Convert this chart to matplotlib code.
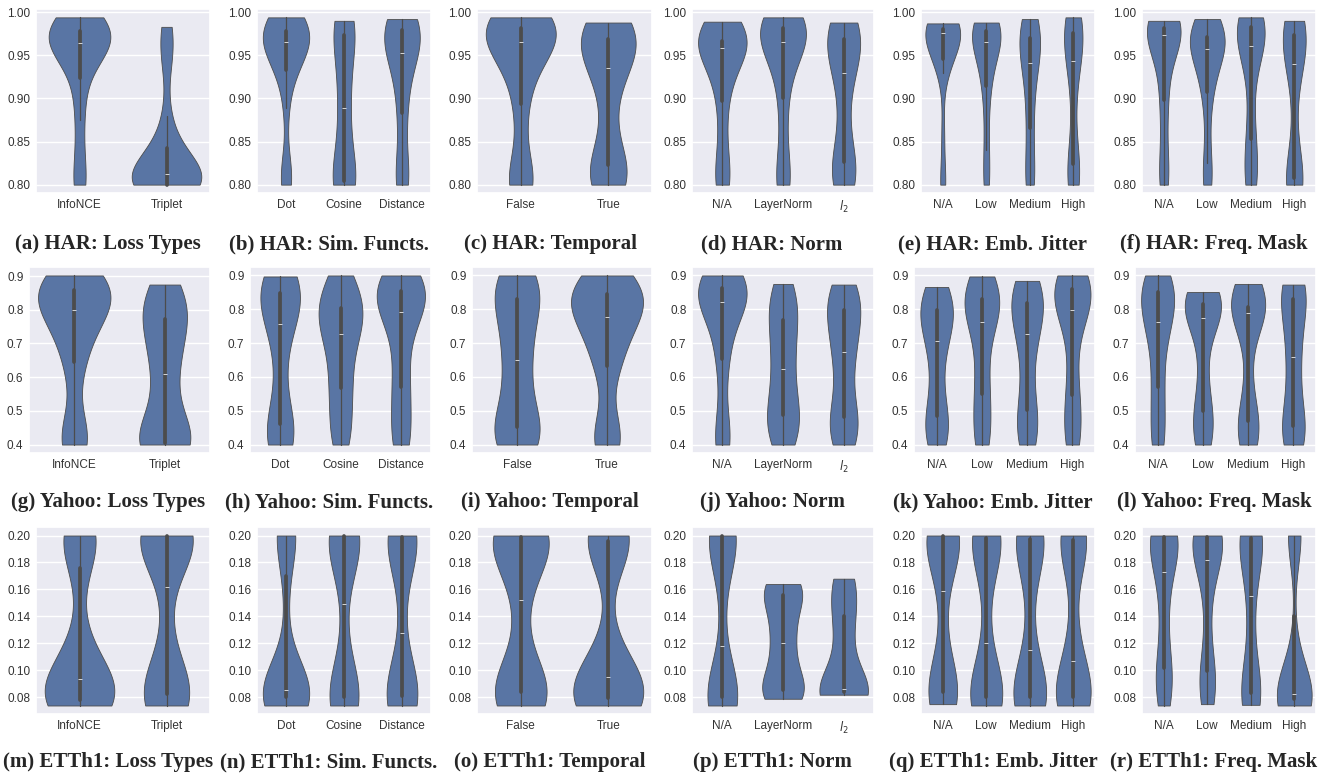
import numpy as np
import pandas as pd
import matplotlib
matplotlib.use('Agg')
import matplotlib.pyplot as plt
from matplotlib.ticker import FormatStrFormatter
import seaborn as sns

# category labels
loss_cats = ['InfoNCE', 'Triplet']
sim_cats = ['Dot', 'Cosine', 'Distance']
temporal_cats = ['False', 'True']
norm_cats = ['N/A', 'LayerNorm', r'$l_2$']
level_cats = ['N/A', 'Low', 'Medium', 'High']

# HAR scores (clipped at 0.80)
har_loss = [
    [0.80, 0.80, 0.836, 0.875, 0.905, 0.93, 0.948, 0.957, 0.961, 0.963, 0.965, 0.968, 0.971, 0.974, 0.977, 0.98, 0.984, 0.988, 0.991, 0.994],
    [0.80, 0.80, 0.80, 0.80, 0.80, 0.80, 0.80, 0.80, 0.805, 0.81, 0.815, 0.82, 0.826, 0.832, 0.84, 0.85, 0.88, 0.94, 0.965, 0.983],
]
har_sim = [
    [0.80, 0.805, 0.82, 0.889, 0.925, 0.936, 0.945, 0.952, 0.958, 0.963, 0.967, 0.97, 0.973, 0.975, 0.977, 0.981, 0.985, 0.989, 0.992, 0.994],
    [0.80, 0.80, 0.80, 0.80, 0.80, 0.805, 0.82, 0.84, 0.86, 0.88, 0.898, 0.915, 0.935, 0.95, 0.972, 0.978, 0.982, 0.986, 0.988, 0.99],
    [0.80, 0.80, 0.81, 0.83, 0.87, 0.887, 0.91, 0.93, 0.942, 0.95, 0.956, 0.962, 0.968, 0.973, 0.977, 0.985, 0.987, 0.989, 0.991, 0.992],
]
har_temporal = [
    [0.80, 0.80, 0.805, 0.815, 0.87, 0.902, 0.925, 0.942, 0.953, 0.962, 0.968, 0.972, 0.975, 0.978, 0.981, 0.985, 0.988, 0.99, 0.992, 0.994],
    [0.80, 0.80, 0.805, 0.81, 0.818, 0.825, 0.845, 0.88, 0.91, 0.93, 0.94, 0.948, 0.955, 0.96, 0.967, 0.975, 0.979, 0.983, 0.986, 0.988],
]
har_norm = [
    [0.80, 0.80, 0.815, 0.84, 0.875, 0.905, 0.92, 0.935, 0.948, 0.955, 0.963, 0.964, 0.965, 0.966, 0.966, 0.97, 0.975, 0.98, 0.985, 0.989],
    [0.80, 0.80, 0.81, 0.84, 0.88, 0.907, 0.93, 0.945, 0.955, 0.962, 0.97, 0.972, 0.975, 0.978, 0.981, 0.985, 0.988, 0.99, 0.992, 0.994],
    [0.80, 0.80, 0.805, 0.812, 0.82, 0.828, 0.845, 0.87, 0.90, 0.922, 0.936, 0.945, 0.952, 0.958, 0.967, 0.975, 0.979, 0.983, 0.986, 0.988],
]
har_jitter = [
    [0.80, 0.805, 0.86, 0.929, 0.94, 0.947, 0.955, 0.962, 0.968, 0.973, 0.978, 0.978, 0.979, 0.98, 0.98, 0.982, 0.983, 0.985, 0.986, 0.987],
    [0.80, 0.81, 0.84, 0.87, 0.905, 0.918, 0.93, 0.945, 0.955, 0.962, 0.968, 0.97, 0.973, 0.975, 0.977, 0.981, 0.983, 0.985, 0.987, 0.988],
    [0.80, 0.80, 0.81, 0.825, 0.855, 0.87, 0.89, 0.91, 0.925, 0.937, 0.945, 0.952, 0.958, 0.963, 0.968, 0.976, 0.981, 0.986, 0.99, 0.992],
    [0.80, 0.80, 0.805, 0.812, 0.82, 0.826, 0.85, 0.89, 0.92, 0.938, 0.948, 0.955, 0.962, 0.968, 0.974, 0.982, 0.986, 0.989, 0.992, 0.994],
]
har_mask = [
    [0.80, 0.805, 0.82, 0.85, 0.885, 0.902, 0.925, 0.945, 0.96, 0.97, 0.976, 0.977, 0.978, 0.979, 0.981, 0.984, 0.986, 0.988, 0.989, 0.99],
    [0.80, 0.805, 0.825, 0.86, 0.90, 0.91, 0.925, 0.94, 0.95, 0.955, 0.959, 0.962, 0.965, 0.968, 0.97, 0.975, 0.98, 0.985, 0.989, 0.992],
    [0.80, 0.80, 0.81, 0.825, 0.845, 0.855, 0.885, 0.92, 0.945, 0.958, 0.964, 0.968, 0.973, 0.977, 0.982, 0.986, 0.988, 0.99, 0.992, 0.994],
    [0.80, 0.80, 0.80, 0.80, 0.803, 0.81, 0.82, 0.86, 0.91, 0.935, 0.945, 0.952, 0.96, 0.965, 0.971, 0.979, 0.983, 0.986, 0.988, 0.99],
]

# Yahoo scores (clipped at 0.40)
yahoo_loss = [
    [0.40, 0.40, 0.42, 0.45, 0.60, 0.66, 0.70, 0.74, 0.77, 0.79, 0.808, 0.82, 0.835, 0.845, 0.855, 0.865, 0.875, 0.885, 0.895, 0.902],
    [0.40, 0.40, 0.40, 0.40, 0.40, 0.405, 0.43, 0.47, 0.53, 0.59, 0.63, 0.67, 0.71, 0.74, 0.765, 0.79, 0.81, 0.83, 0.85, 0.875],
]
yahoo_sim = [
    [0.40, 0.40, 0.41, 0.43, 0.45, 0.465, 0.52, 0.61, 0.69, 0.74, 0.775, 0.79, 0.81, 0.825, 0.843, 0.865, 0.875, 0.885, 0.892, 0.897],
    [0.40, 0.42, 0.46, 0.50, 0.55, 0.572, 0.61, 0.65, 0.69, 0.715, 0.74, 0.755, 0.77, 0.785, 0.80, 0.82, 0.84, 0.86, 0.88, 0.90],
    [0.40, 0.41, 0.44, 0.50, 0.56, 0.572, 0.64, 0.70, 0.75, 0.78, 0.804, 0.815, 0.83, 0.84, 0.85, 0.862, 0.872, 0.882, 0.892, 0.90],
]
yahoo_temporal = [
    [0.40, 0.40, 0.41, 0.42, 0.44, 0.457, 0.48, 0.53, 0.59, 0.63, 0.668, 0.71, 0.75, 0.79, 0.825, 0.845, 0.86, 0.875, 0.89, 0.90],
    [0.40, 0.40, 0.42, 0.47, 0.62, 0.635, 0.68, 0.72, 0.75, 0.77, 0.785, 0.80, 0.815, 0.825, 0.84, 0.855, 0.865, 0.875, 0.888, 0.90],
]
yahoo_norm = [
    [0.40, 0.40, 0.42, 0.50, 0.63, 0.66, 0.72, 0.77, 0.80, 0.815, 0.829, 0.838, 0.845, 0.852, 0.86, 0.872, 0.88, 0.888, 0.895, 0.90],
    [0.40, 0.41, 0.43, 0.45, 0.475, 0.49, 0.51, 0.54, 0.57, 0.60, 0.645, 0.67, 0.70, 0.73, 0.76, 0.79, 0.81, 0.83, 0.855, 0.875],
    [0.40, 0.41, 0.43, 0.45, 0.47, 0.486, 0.52, 0.57, 0.62, 0.66, 0.688, 0.71, 0.74, 0.77, 0.795, 0.81, 0.825, 0.84, 0.858, 0.873],
]
yahoo_jitter = [
    [0.40, 0.41, 0.43, 0.45, 0.475, 0.488, 0.53, 0.59, 0.64, 0.69, 0.722, 0.74, 0.76, 0.78, 0.795, 0.805, 0.82, 0.835, 0.85, 0.866],
    [0.40, 0.41, 0.44, 0.48, 0.535, 0.554, 0.60, 0.66, 0.71, 0.75, 0.774, 0.79, 0.805, 0.815, 0.827, 0.84, 0.855, 0.87, 0.885, 0.897],
    [0.40, 0.41, 0.43, 0.46, 0.495, 0.505, 0.56, 0.62, 0.67, 0.715, 0.741, 0.76, 0.78, 0.80, 0.815, 0.835, 0.85, 0.862, 0.875, 0.884],
    [0.40, 0.41, 0.44, 0.48, 0.53, 0.553, 0.62, 0.70, 0.76, 0.79, 0.808, 0.82, 0.832, 0.843, 0.857, 0.868, 0.877, 0.885, 0.893, 0.90],
]
yahoo_mask = [
    [0.40, 0.41, 0.44, 0.50, 0.56, 0.575, 0.64, 0.70, 0.73, 0.75, 0.774, 0.79, 0.81, 0.825, 0.848, 0.86, 0.87, 0.88, 0.89, 0.90],
    [0.40, 0.41, 0.43, 0.46, 0.49, 0.503, 0.55, 0.62, 0.69, 0.76, 0.79, 0.795, 0.80, 0.808, 0.815, 0.82, 0.828, 0.835, 0.843, 0.851],
    [0.40, 0.41, 0.43, 0.45, 0.463, 0.47, 0.52, 0.60, 0.70, 0.785, 0.795, 0.80, 0.802, 0.804, 0.806, 0.81, 0.83, 0.85, 0.865, 0.875],
    [0.40, 0.41, 0.42, 0.435, 0.45, 0.456, 0.50, 0.55, 0.60, 0.64, 0.68, 0.72, 0.76, 0.79, 0.825, 0.85, 0.858, 0.864, 0.868, 0.873],
]

# ETTh1 scores (clipped at 0.20)
etth_loss = [
    [0.074, 0.075, 0.076, 0.077, 0.0775, 0.078, 0.08, 0.083, 0.087, 0.091, 0.097, 0.103, 0.11, 0.125, 0.17, 0.195, 0.198, 0.199, 0.20, 0.20],
    [0.074, 0.075, 0.077, 0.079, 0.081, 0.0835, 0.087, 0.093, 0.105, 0.14, 0.183, 0.19, 0.195, 0.198, 0.20, 0.20, 0.20, 0.20, 0.20, 0.20],
]
etth_sim = [
    [0.074, 0.075, 0.076, 0.077, 0.079, 0.0812, 0.082, 0.083, 0.084, 0.085, 0.0855, 0.088, 0.095, 0.11, 0.16, 0.20, 0.20, 0.20, 0.20, 0.20],
    [0.074, 0.076, 0.077, 0.078, 0.079, 0.0805, 0.083, 0.087, 0.095, 0.13, 0.168, 0.185, 0.192, 0.197, 0.20, 0.20, 0.20, 0.20, 0.20, 0.20],
    [0.074, 0.075, 0.077, 0.078, 0.080, 0.081, 0.083, 0.087, 0.093, 0.11, 0.145, 0.178, 0.188, 0.195, 0.199, 0.20, 0.20, 0.20, 0.20, 0.20],
]
etth_temporal = [
    [0.074, 0.076, 0.078, 0.080, 0.083, 0.0845, 0.087, 0.092, 0.105, 0.14, 0.165, 0.18, 0.19, 0.196, 0.199, 0.20, 0.20, 0.20, 0.20, 0.20],
    [0.074, 0.075, 0.076, 0.077, 0.0785, 0.0795, 0.081, 0.083, 0.087, 0.092, 0.098, 0.105, 0.12, 0.18, 0.195, 0.20, 0.20, 0.20, 0.20, 0.20],
]
etth_norm = [
    [0.074, 0.075, 0.077, 0.078, 0.0795, 0.0805, 0.082, 0.084, 0.088, 0.096, 0.14, 0.18, 0.192, 0.197, 0.20, 0.20, 0.20, 0.20, 0.20, 0.20],
    [0.079, 0.080, 0.082, 0.0835, 0.085, 0.086, 0.092, 0.10, 0.108, 0.116, 0.124, 0.13, 0.138, 0.146, 0.155, 0.158, 0.16, 0.162, 0.163, 0.164],
    [0.082, 0.083, 0.084, 0.085, 0.086, 0.12, 0.14, 0.158, 0.168],
]
etth_jitter = [
    [0.075, 0.077, 0.079, 0.081, 0.083, 0.0845, 0.088, 0.095, 0.11, 0.145, 0.172, 0.185, 0.192, 0.197, 0.20, 0.20, 0.20, 0.20, 0.20, 0.20],
    [0.074, 0.075, 0.077, 0.078, 0.0795, 0.0805, 0.083, 0.087, 0.093, 0.105, 0.135, 0.17, 0.185, 0.193, 0.198, 0.20, 0.20, 0.20, 0.20, 0.20],
    [0.074, 0.075, 0.077, 0.078, 0.0795, 0.0805, 0.083, 0.087, 0.094, 0.105, 0.126, 0.16, 0.18, 0.19, 0.197, 0.20, 0.20, 0.20, 0.20, 0.20],
    [0.074, 0.075, 0.076, 0.078, 0.0795, 0.0805, 0.083, 0.086, 0.092, 0.10, 0.114, 0.13, 0.17, 0.188, 0.196, 0.20, 0.20, 0.20, 0.20, 0.20],
]
etth_mask = [
    [0.074, 0.08, 0.088, 0.095, 0.099, 0.1025, 0.12, 0.14, 0.155, 0.168, 0.178, 0.186, 0.192, 0.196, 0.199, 0.20, 0.20, 0.20, 0.20, 0.20],
    [0.075, 0.08, 0.088, 0.094, 0.097, 0.10, 0.125, 0.15, 0.168, 0.178, 0.185, 0.19, 0.194, 0.197, 0.199, 0.20, 0.20, 0.20, 0.20, 0.20],
    [0.0745, 0.077, 0.079, 0.081, 0.082, 0.0836, 0.09, 0.105, 0.125, 0.148, 0.163, 0.178, 0.188, 0.194, 0.198, 0.20, 0.20, 0.20, 0.20, 0.20],
    [0.074, 0.075, 0.076, 0.077, 0.0775, 0.079, 0.08, 0.081, 0.082, 0.0825, 0.083, 0.085, 0.088, 0.093, 0.12, 0.20, 0.20, 0.20, 0.20, 0.20],
]

datasets = ['HAR', 'Yahoo', 'ETTh1']
panel_names = ['Loss Types', 'Sim. Functs.', 'Temporal', 'Norm', 'Emb. Jitter', 'Freq. Mask']
panel_cats = [loss_cats, sim_cats, temporal_cats, norm_cats, level_cats, level_cats]
all_data = [
    [har_loss, har_sim, har_temporal, har_norm, har_jitter, har_mask],
    [yahoo_loss, yahoo_sim, yahoo_temporal, yahoo_norm, yahoo_jitter, yahoo_mask],
    [etth_loss, etth_sim, etth_temporal, etth_norm, etth_jitter, etth_mask],
]
row_ticks = [
    [0.80, 0.85, 0.90, 0.95, 1.00],
    [0.4, 0.5, 0.6, 0.7, 0.8, 0.9],
    [0.08, 0.10, 0.12, 0.14, 0.16, 0.18, 0.20],
]
row_fmt = ['%.2f', '%.1f', '%.2f']
letters = 'abcdefghijklmnopqr'

sns.set_theme(style='darkgrid')
plt.rcParams['font.family'] = ['Liberation Sans', 'DejaVu Sans']

W, H = 1335, 780
fig = plt.figure(figsize=(W / 100, H / 100), dpi=100)

# axes placement in pixels
row_y = [(9, 193), (267, 453), (527, 714)]
col_x = [
    [(36, 210), (257, 431), (477, 652), (692, 874), (921, 1095), (1142, 1316)],
    [(29, 210), (250, 431), (472, 652), (692, 874), (914, 1095), (1135, 1316)],
    [(36, 210), (257, 431), (477, 652), (692, 874), (921, 1095), (1142, 1316)],
]
cap_x = [108, 329, 550, 772, 993, 1214]
cap_y = [249, 507, 767]

for r in range(3):
    top, bot = row_y[r]
    for c in range(6):
        left, right = col_x[r][c]
        ax = fig.add_axes([left / W, 1 - bot / H, (right - left) / W, (bot - top) / H])
        cats = panel_cats[c]
        vals = all_data[r][c]
        df = pd.DataFrame({
            'cat': np.repeat(cats, [len(v) for v in vals]),
            'val': np.concatenate(vals),
        })
        sns.violinplot(data=df, x='cat', y='val', order=cats, cut=0, inner='box',
                       color='#4C72B0', bw_adjust=0.8, linewidth=0.6, ax=ax)
        ax.set_xlabel('')
        ax.set_ylabel('')
        ax.set_yticks(row_ticks[r])
        ax.yaxis.set_major_formatter(FormatStrFormatter(row_fmt[r]))
        ax.tick_params(labelsize=8.5, length=0, pad=4, labelcolor='#333333')
        caption = '(%s) %s: %s' % (letters[r * 6 + c], datasets[r], panel_names[c])
        fig.text(cap_x[c] / W, 1 - cap_y[r] / H, caption, ha='center', va='baseline',
                 fontsize=15, fontweight='bold', family='Liberation Serif')

fig.savefig('out.png', dpi=100)
